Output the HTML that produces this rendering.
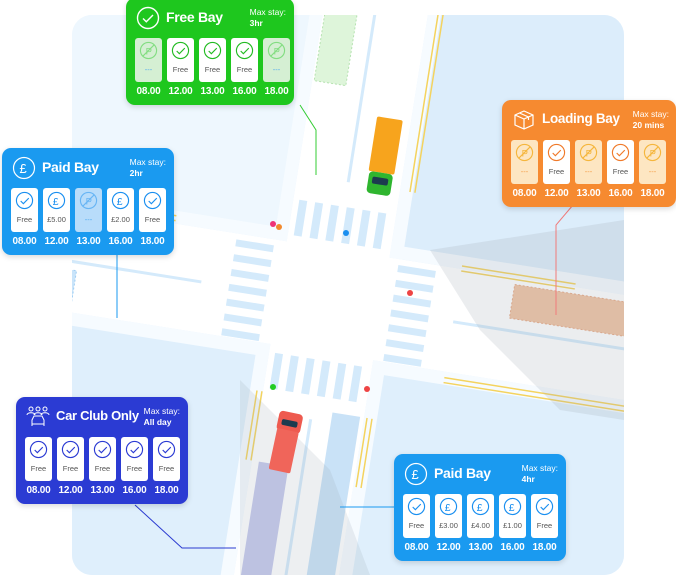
<!DOCTYPE html>
<html style="overflow:hidden"><head><meta charset="utf-8">
<style>
html,body{margin:0;width:676px;height:576px;overflow:hidden}
body{background:#fff;position:relative;font-family:"Liberation Sans",sans-serif}
.card{position:absolute;width:172px;height:107px;border-radius:9px;color:#fff;box-shadow:0 2px 6px rgba(0,0,0,.15)}
.card .hi{position:absolute;left:10px;top:8px;width:24px;height:24px}
.card .tt{position:absolute;left:40px;top:11px;font-size:14px;font-weight:bold;letter-spacing:-.3px;white-space:nowrap}
.card .ms{position:absolute;right:8px;top:9px;font-size:8.5px;line-height:11px;white-space:nowrap}
.card .ms b{display:block}
.tiles{position:absolute;left:9px;top:40px;display:flex;gap:5px}
.t{width:27px;height:44px;border-radius:3px;background:#fff;position:relative;text-align:center}
.t svg{position:absolute;left:4px;top:3px}
.t span{position:absolute;left:0;right:0;top:27px;font-size:7.5px;color:#555}
.times{position:absolute;left:9px;top:88px;display:flex;gap:5px}
.times div{width:27px;text-align:center;font-size:10px;font-weight:bold;letter-spacing:-.2px}
</style></head><body>
<svg width="676" height="576" style="position:absolute;left:0;top:0">
<defs><clipPath id="cp"><rect x="72" y="15" width="552" height="560" rx="20"/></clipPath></defs>
<g clip-path="url(#cp)">
<rect x="72" y="15" width="552" height="560" fill="#e6f3fd"/>
<g transform="rotate(9 325 300)">
 <rect x="-100" y="-200" width="365" height="435" fill="#eef7fe"/>
 <rect x="395" y="-200" width="400" height="435" fill="#dcedfb"/>
 <rect x="-100" y="365" width="365" height="400" fill="#dfeffc"/>
 <rect x="395" y="365" width="400" height="400" fill="#dfeffc"/>
 <!-- roads -->
 <rect x="278" y="-200" width="104" height="1000" fill="#fff"/>
 <rect x="-200" y="248" width="1000" height="104" fill="#fff"/>
 <rect x="265" y="-200" width="13" height="448" fill="#f6fbff"/>
 <rect x="382" y="-200" width="13" height="448" fill="#f6fbff"/>
 <rect x="-200" y="235" width="478" height="13" fill="#f6fbff"/>
 <rect x="382" y="235" width="420" height="13" fill="#f6fbff"/>
 <rect x="-200" y="352" width="478" height="13" fill="#f6fbff"/>
 <rect x="382" y="352" width="420" height="13" fill="#f6fbff"/>
 <rect x="265" y="352" width="13" height="500" fill="#f6fbff"/>
 <rect x="382" y="352" width="13" height="500" fill="#f6fbff"/>
 <g fill="#d4eafb">
  <rect x="284" y="205" width="8" height="36"/><rect x="300" y="205" width="8" height="36"/><rect x="316" y="205" width="8" height="36"/><rect x="332" y="205" width="8" height="36"/><rect x="348" y="205" width="8" height="36"/><rect x="364" y="205" width="8" height="36"/>
  <rect x="284" y="360" width="8" height="36"/><rect x="300" y="360" width="8" height="36"/><rect x="316" y="360" width="8" height="36"/><rect x="332" y="360" width="8" height="36"/><rect x="348" y="360" width="8" height="36"/><rect x="364" y="360" width="8" height="36"/>
  <rect x="228" y="254" width="38" height="7"/><rect x="228" y="269" width="38" height="7"/><rect x="228" y="284" width="38" height="7"/><rect x="228" y="299" width="38" height="7"/><rect x="228" y="314" width="38" height="7"/><rect x="228" y="329" width="38" height="7"/><rect x="228" y="344" width="38" height="7"/>
  <rect x="392" y="254" width="38" height="7"/><rect x="392" y="269" width="38" height="7"/><rect x="392" y="284" width="38" height="7"/><rect x="392" y="299" width="38" height="7"/><rect x="392" y="314" width="38" height="7"/><rect x="392" y="329" width="38" height="7"/><rect x="392" y="344" width="38" height="7"/>
  <rect x="-200" y="300" width="400" height="3"/><rect x="455" y="300" width="400" height="3"/>
  <rect x="328" y="-200" width="3" height="380"/><rect x="328" y="420" width="3" height="400"/>
 </g>
 <rect x="280" y="-110" width="32" height="195" fill="#def5da" stroke="#b5e2b0" stroke-dasharray="2 2"/>
 <rect x="405" y="-90" width="28" height="78" fill="#f7cfae"/>
 <rect x="-140" y="310" width="215" height="38" fill="#c9e4fa" stroke="#9fcdf3" stroke-dasharray="2 2"/>
 <rect x="510" y="255" width="120" height="34" fill="#f1c4a3" stroke="#e8a884" stroke-dasharray="2 2"/>
 <rect x="285" y="470" width="30" height="130" fill="#c5c8ec"/>
 <rect x="350" y="410" width="28" height="180" fill="#c9e2f7"/>
 <g stroke="#f4d35e" stroke-width="1.5" fill="none">
  <path d="M392 -90V180M397 -90V180"/>
  <path d="M-100 240H165M-100 245H165"/>
  <path d="M455 245H570M455 250H570"/>
  <path d="M455 358H800M455 363H800"/>
  <path d="M272 400V470M277 400V470"/>
  <path d="M385 410V480M390 410V480"/>
 </g>
</g>
<polygon points="430,250 624,220 624,420 560,410 480,330" fill="#9aa5b0" opacity=".2"/>
<polygon points="240,380 330,470 370,575 240,575" fill="#9aa5b0" opacity=".18"/>
<g transform="rotate(9 385 150)"><rect x="372" y="118" width="26" height="55" rx="2" fill="#f7a41d"/><rect x="373" y="173" width="24" height="22" rx="4" fill="#2fb52f"/><rect x="377" y="178" width="16" height="7" rx="2" fill="#1c3b4f"/></g>
<g transform="rotate(12 286 440)"><rect x="274" y="412" width="24" height="20" rx="4" fill="#ee5a4f"/><rect x="278" y="420" width="16" height="6" rx="2" fill="#1c3b4f"/><rect x="275" y="430" width="22" height="42" rx="2" fill="#f0655a"/></g>
<circle cx="279" cy="227" r="3" fill="#f28a2e"/><circle cx="273" cy="224" r="3" fill="#e37"/>
<circle cx="346" cy="233" r="3" fill="#1a8ff0"/><circle cx="410" cy="293" r="3" fill="#e44"/>
<circle cx="273" cy="387" r="3" fill="#2c2"/><circle cx="367" cy="389" r="3" fill="#e44"/>
</g>
<g fill="none" stroke-width="1">
 <path d="M300 105L316 130V175" stroke="#3c3"/>
 <path d="M117 255V318" stroke="#1a9af0"/>
 <path d="M573 205L556 225V315" stroke="#f07a7a"/>
 <path d="M135 505L182 548H236" stroke="#2b3bd1"/>
 <path d="M340 507H394" stroke="#1a9af0"/>
</g>
</svg>

<div class="card" style="left:126px;top:-2px;width:168px;background:#1ec71e">
 <svg class="hi" viewBox="0 0 24 24"><circle cx="12" cy="12" r="10.5" fill="none" stroke="#fff" stroke-width="1.4"/><path d="M7 12.5l3.3 3.3L17 9" fill="none" stroke="#fff" stroke-width="1.4"/></svg>
 <div class="tt">Free Bay</div><div class="ms">Max stay:<b>3hr</b></div>
 <div class="tiles">
  <div class="t" style="background:#d5efd3"><svg width="19" height="19" viewBox="0 0 20 20" opacity=".5"><circle cx="10" cy="10" r="8.5" fill="none" stroke="#3c3" stroke-width="1.2"/><text x="7" y="14" font-size="10" fill="#3c3" font-family="Liberation Sans">P</text><path d="M4 16L16 4" stroke="#3c3" stroke-width="1.2"/></svg><span style="color:#4aa8f0">---</span></div>
  <div class="t"><svg width="19" height="19" viewBox="0 0 20 20"><circle cx="10" cy="10" r="8.5" fill="none" stroke="#2b2" stroke-width="1.2"/><path d="M6 10.5l2.8 2.8L14.5 7.5" fill="none" stroke="#2b2" stroke-width="1.2"/></svg><span>Free</span></div>
  <div class="t"><svg width="19" height="19" viewBox="0 0 20 20"><circle cx="10" cy="10" r="8.5" fill="none" stroke="#2b2" stroke-width="1.2"/><path d="M6 10.5l2.8 2.8L14.5 7.5" fill="none" stroke="#2b2" stroke-width="1.2"/></svg><span>Free</span></div>
  <div class="t"><svg width="19" height="19" viewBox="0 0 20 20"><circle cx="10" cy="10" r="8.5" fill="none" stroke="#2b2" stroke-width="1.2"/><path d="M6 10.5l2.8 2.8L14.5 7.5" fill="none" stroke="#2b2" stroke-width="1.2"/></svg><span>Free</span></div>
  <div class="t" style="background:#d5efd3"><svg width="19" height="19" viewBox="0 0 20 20" opacity=".5"><circle cx="10" cy="10" r="8.5" fill="none" stroke="#3c3" stroke-width="1.2"/><text x="7" y="14" font-size="10" fill="#3c3" font-family="Liberation Sans">P</text><path d="M4 16L16 4" stroke="#3c3" stroke-width="1.2"/></svg><span style="color:#4aa8f0">---</span></div>
 </div>
 <div class="times"><div>08.00</div><div>12.00</div><div>13.00</div><div>16.00</div><div>18.00</div></div>
</div>

<div class="card" style="left:2px;top:148px;background:#1a9af0">
 <svg class="hi" viewBox="0 0 24 24"><circle cx="12" cy="12" r="10.5" fill="none" stroke="#fff" stroke-width="1.2"/><text x="7.5" y="17" font-size="13" fill="#fff" font-family="Liberation Sans">£</text></svg>
 <div class="tt">Paid Bay</div><div class="ms">Max stay:<b>2hr</b></div>
 <div class="tiles">
  <div class="t"><svg width="19" height="19" viewBox="0 0 20 20"><circle cx="10" cy="10" r="8.5" fill="none" stroke="#1a8ff0" stroke-width="1.2"/><path d="M6 10.5l2.8 2.8L14.5 7.5" fill="none" stroke="#1a8ff0" stroke-width="1.2"/></svg><span>Free</span></div>
  <div class="t"><svg width="19" height="19" viewBox="0 0 20 20"><circle cx="10" cy="10" r="8.5" fill="none" stroke="#1a8ff0" stroke-width="1.2"/><text x="6" y="14.5" font-size="11" fill="#1a8ff0" font-family="Liberation Sans">£</text></svg><span>£5.00</span></div>
  <div class="t" style="background:#b8dcfa"><svg width="19" height="19" viewBox="0 0 20 20" opacity=".5"><circle cx="10" cy="10" r="8.5" fill="none" stroke="#1a8ff0" stroke-width="1.2"/><text x="7" y="14" font-size="10" fill="#1a8ff0" font-family="Liberation Sans">P</text><path d="M4 16L16 4" stroke="#1a8ff0" stroke-width="1.2"/></svg><span style="color:#4aa8f0">---</span></div>
  <div class="t"><svg width="19" height="19" viewBox="0 0 20 20"><circle cx="10" cy="10" r="8.5" fill="none" stroke="#1a8ff0" stroke-width="1.2"/><text x="6" y="14.5" font-size="11" fill="#1a8ff0" font-family="Liberation Sans">£</text></svg><span>£2.00</span></div>
  <div class="t"><svg width="19" height="19" viewBox="0 0 20 20"><circle cx="10" cy="10" r="8.5" fill="none" stroke="#1a8ff0" stroke-width="1.2"/><path d="M6 10.5l2.8 2.8L14.5 7.5" fill="none" stroke="#1a8ff0" stroke-width="1.2"/></svg><span>Free</span></div>
 </div>
 <div class="times"><div>08.00</div><div>12.00</div><div>13.00</div><div>16.00</div><div>18.00</div></div>
</div>

<div class="card" style="left:502px;top:100px;width:174px;background:#f68a30">
 <svg class="hi" viewBox="0 0 24 24" fill="none" stroke="#fff" stroke-width="1.2"><path d="M3 7l9-4 9 4v10l-9 4-9-4z M3 7l9 4 9-4 M12 11v10 M7.5 5l9 4v3"/></svg>
 <div class="tt" style="font-size:13.5px">Loading Bay</div><div class="ms" style="right:7px">Max stay:<b>20 mins</b></div>
 <div class="tiles">
  <div class="t" style="background:#fde6c2"><svg width="19" height="19" viewBox="0 0 20 20"><circle cx="10" cy="10" r="8.5" fill="none" stroke="#f5b63c" stroke-width="1.2"/><text x="7" y="14" font-size="10" fill="#f5b63c" font-family="Liberation Sans">P</text><path d="M4 16L16 4" stroke="#f5b63c" stroke-width="1.2"/></svg><span style="color:#f59a40">---</span></div>
  <div class="t"><svg width="19" height="19" viewBox="0 0 20 20"><circle cx="10" cy="10" r="8.5" fill="none" stroke="#f07a2a" stroke-width="1.2"/><path d="M6 10.5l2.8 2.8L14.5 7.5" fill="none" stroke="#f07a2a" stroke-width="1.2"/></svg><span>Free</span></div>
  <div class="t" style="background:#fde6c2"><svg width="19" height="19" viewBox="0 0 20 20"><circle cx="10" cy="10" r="8.5" fill="none" stroke="#f5b63c" stroke-width="1.2"/><text x="7" y="14" font-size="10" fill="#f5b63c" font-family="Liberation Sans">P</text><path d="M4 16L16 4" stroke="#f5b63c" stroke-width="1.2"/></svg><span style="color:#f59a40">---</span></div>
  <div class="t"><svg width="19" height="19" viewBox="0 0 20 20"><circle cx="10" cy="10" r="8.5" fill="none" stroke="#f07a2a" stroke-width="1.2"/><path d="M6 10.5l2.8 2.8L14.5 7.5" fill="none" stroke="#f07a2a" stroke-width="1.2"/></svg><span>Free</span></div>
  <div class="t" style="background:#fde6c2"><svg width="19" height="19" viewBox="0 0 20 20"><circle cx="10" cy="10" r="8.5" fill="none" stroke="#f5b63c" stroke-width="1.2"/><text x="7" y="14" font-size="10" fill="#f5b63c" font-family="Liberation Sans">P</text><path d="M4 16L16 4" stroke="#f5b63c" stroke-width="1.2"/></svg><span style="color:#f59a40">---</span></div>
 </div>
 <div class="times"><div>08.00</div><div>12.00</div><div>13.00</div><div>16.00</div><div>18.00</div></div>
</div>

<div class="card" style="left:16px;top:397px;background:#2b3bd3">
 <svg class="hi" viewBox="0 0 24 24" fill="none" stroke="#fff" stroke-width="1"><circle cx="5" cy="4" r="2"/><circle cx="12" cy="4" r="2"/><circle cx="19" cy="4" r="2"/><path d="M1 10c0-3 8-3 8 0M8 10c0-3 8-3 8 0M15 10c0-3 8-3 8 0"/><path d="M6 19v-4l2-4h8l2 4v4zM6 19v2M18 19v2"/></svg>
 <div class="tt" style="font-size:13px">Car Club Only</div><div class="ms">Max stay:<b>All day</b></div>
 <div class="tiles">
  <div class="t"><svg width="19" height="19" viewBox="0 0 20 20"><circle cx="10" cy="10" r="8.5" fill="none" stroke="#2b3bd3" stroke-width="1.2"/><path d="M6 10.5l2.8 2.8L14.5 7.5" fill="none" stroke="#2b3bd3" stroke-width="1.2"/></svg><span>Free</span></div>
  <div class="t"><svg width="19" height="19" viewBox="0 0 20 20"><circle cx="10" cy="10" r="8.5" fill="none" stroke="#2b3bd3" stroke-width="1.2"/><path d="M6 10.5l2.8 2.8L14.5 7.5" fill="none" stroke="#2b3bd3" stroke-width="1.2"/></svg><span>Free</span></div>
  <div class="t"><svg width="19" height="19" viewBox="0 0 20 20"><circle cx="10" cy="10" r="8.5" fill="none" stroke="#2b3bd3" stroke-width="1.2"/><path d="M6 10.5l2.8 2.8L14.5 7.5" fill="none" stroke="#2b3bd3" stroke-width="1.2"/></svg><span>Free</span></div>
  <div class="t"><svg width="19" height="19" viewBox="0 0 20 20"><circle cx="10" cy="10" r="8.5" fill="none" stroke="#2b3bd3" stroke-width="1.2"/><path d="M6 10.5l2.8 2.8L14.5 7.5" fill="none" stroke="#2b3bd3" stroke-width="1.2"/></svg><span>Free</span></div>
  <div class="t"><svg width="19" height="19" viewBox="0 0 20 20"><circle cx="10" cy="10" r="8.5" fill="none" stroke="#2b3bd3" stroke-width="1.2"/><path d="M6 10.5l2.8 2.8L14.5 7.5" fill="none" stroke="#2b3bd3" stroke-width="1.2"/></svg><span>Free</span></div>
 </div>
 <div class="times"><div>08.00</div><div>12.00</div><div>13.00</div><div>16.00</div><div>18.00</div></div>
</div>

<div class="card" style="left:394px;top:454px;background:#1a9af0">
 <svg class="hi" viewBox="0 0 24 24"><circle cx="12" cy="12" r="10.5" fill="none" stroke="#fff" stroke-width="1.2"/><text x="7.5" y="17" font-size="13" fill="#fff" font-family="Liberation Sans">£</text></svg>
 <div class="tt">Paid Bay</div><div class="ms">Max stay:<b>4hr</b></div>
 <div class="tiles">
  <div class="t"><svg width="19" height="19" viewBox="0 0 20 20"><circle cx="10" cy="10" r="8.5" fill="none" stroke="#1a8ff0" stroke-width="1.2"/><path d="M6 10.5l2.8 2.8L14.5 7.5" fill="none" stroke="#1a8ff0" stroke-width="1.2"/></svg><span>Free</span></div>
  <div class="t"><svg width="19" height="19" viewBox="0 0 20 20"><circle cx="10" cy="10" r="8.5" fill="none" stroke="#1a8ff0" stroke-width="1.2"/><text x="6" y="14.5" font-size="11" fill="#1a8ff0" font-family="Liberation Sans">£</text></svg><span>£3.00</span></div>
  <div class="t"><svg width="19" height="19" viewBox="0 0 20 20"><circle cx="10" cy="10" r="8.5" fill="none" stroke="#1a8ff0" stroke-width="1.2"/><text x="6" y="14.5" font-size="11" fill="#1a8ff0" font-family="Liberation Sans">£</text></svg><span>£4.00</span></div>
  <div class="t"><svg width="19" height="19" viewBox="0 0 20 20"><circle cx="10" cy="10" r="8.5" fill="none" stroke="#1a8ff0" stroke-width="1.2"/><text x="6" y="14.5" font-size="11" fill="#1a8ff0" font-family="Liberation Sans">£</text></svg><span>£1.00</span></div>
  <div class="t"><svg width="19" height="19" viewBox="0 0 20 20"><circle cx="10" cy="10" r="8.5" fill="none" stroke="#1a8ff0" stroke-width="1.2"/><path d="M6 10.5l2.8 2.8L14.5 7.5" fill="none" stroke="#1a8ff0" stroke-width="1.2"/></svg><span>Free</span></div>
 </div>
 <div class="times"><div>08.00</div><div>12.00</div><div>13.00</div><div>16.00</div><div>18.00</div></div>
</div>
</body></html>
